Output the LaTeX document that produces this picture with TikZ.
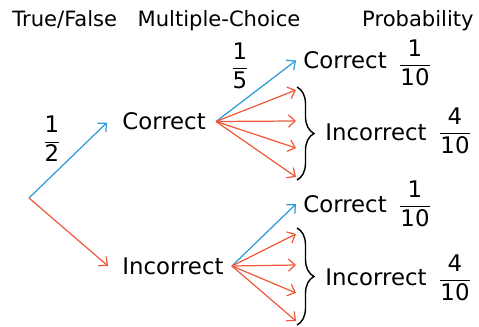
\documentclass[tikz,border=0pt]{standalone}
\usepackage{fontspec}
\setmainfont{DejaVu Sans}
\usetikzlibrary{arrows.meta,calc,decorations.pathreplacing}
\definecolor{sky}{HTML}{2B9AD9}
\definecolor{coral}{HTML}{F05A3C}
\newcommand{\pfrac}[2]{$\displaystyle\frac{\mbox{#1}}{\mbox{#2}}$}

\begin{document}
\begin{tikzpicture}[x=0.02cm,y=-0.02cm,>={Straight Barb[length=3.8pt,width=7pt]},
    font=\fontsize{13}{15}\selectfont,
    lbl/.style={inner sep=0pt,anchor=west},
    head/.style={inner sep=0pt,anchor=base,font=\fontsize{12}{14}\selectfont},
    frac/.style={inner sep=0pt},
    yes/.style={->,draw=sky,line width=0.7pt},
    no/.style={->,draw=coral,line width=0.7pt},
    curly/.style={draw,line width=0.8pt,decorate,decoration={brace,amplitude=0.34cm}}]
  \useasboundingbox (0,0) rectangle (479,327);
  % column headings
  \node[head,anchor=base west] (tf) at (12,27) {True/False};
  \node[head] (mc) at (219,27) {Multiple-Choice};
  \node[head,anchor=base east] (pr) at (474,27) {Probability};
  % first stage
  \coordinate (o) at (29,198);
  \node[lbl] (c) at (122,121.5) {Correct};
  \node[lbl] (i) at (122,266) {Incorrect};
  \node[frac] (half) at (52,139) {\pfrac{1}{2}};
  \draw[yes] (o) -- ([xshift=-0.3cm,yshift=-0.02cm]c.west);
  \draw[no] (o) -- ([xshift=-0.28cm]i.west);
  % second stage
  \coordinate (co) at ([xshift=0.2cm]c.east);
  \coordinate (io) at ([xshift=0.16cm]i.east);
  \node[frac] (fifth) at (240,66) {\pfrac{1}{5}};
  \node[lbl] (cc) at (303,60.5) {Correct};
  \node[lbl] (ci) at (325,132.5) {Incorrect};
  \node[lbl] (ic) at (303,204) {Correct};
  \node[lbl] (ii) at (325,277) {Incorrect};
  \draw[yes] (co) -- ([xshift=-0.14cm]cc.west);
  \draw[yes] (io) -- ([xshift=-0.14cm]ic.west);
  \foreach \y in {90,121,148,177}{
    \coordinate (u\y) at (296,\y);
    \draw[no] (co) -- (u\y);
  }
  \foreach \y in {234,265,293,321}{
    \coordinate (l\y) at (296,\y);
    \draw[no] (io) -- (l\y);
  }
  \coordinate (ub1) at (297,87);
  \coordinate (ub2) at (297,180);
  \coordinate (lb1) at (297,228);
  \coordinate (lb2) at (297,325);
  \draw[curly] (ub1) -- (ub2);
  \draw[curly] (lb1) -- (lb2);
  % probabilities
  \node[frac] (p1) at (415,63) {\pfrac{1}{10}};
  \node[frac] (p2) at (455,131) {\pfrac{4}{10}};
  \node[frac] (p3) at (415,204) {\pfrac{1}{10}};
  \node[frac] (p4) at (455,278) {\pfrac{4}{10}};
\end{tikzpicture}
\end{document}
